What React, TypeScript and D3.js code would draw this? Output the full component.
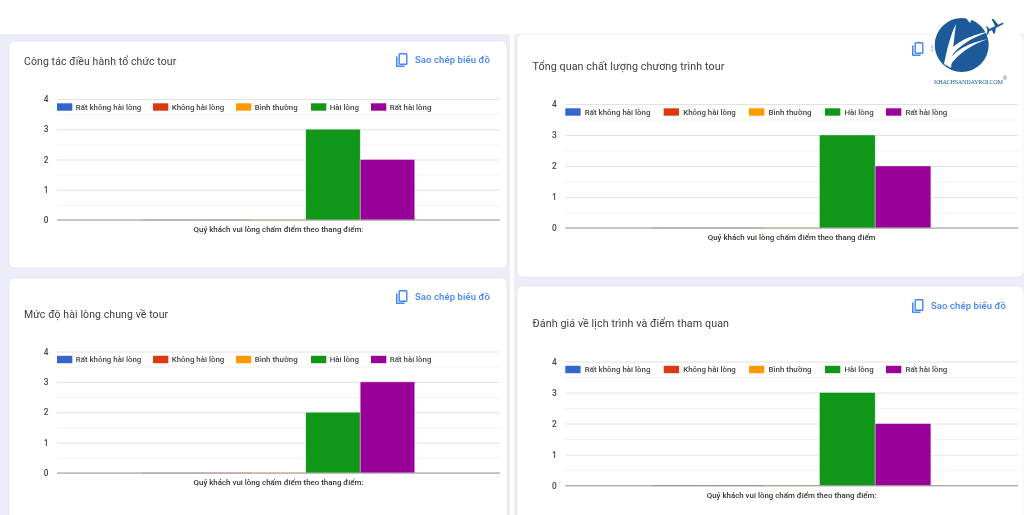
import { useEffect, useRef } from "react";
import * as d3 from "d3";

const seriesNames = ["Rất không hài lòng", "Không hài lòng", "Bình thường", "Hài lòng", "Rất hài lòng"];
const seriesColours = ["#3366cc", "#dc3912", "#ff9900", "#109618", "#990099"];
const yTicks = [0, 1, 2, 3, 4];
const yMinorTicks = [0.5, 1.5, 2.5, 3.5];

const valuesCongTac = [0, 0, 0, 3, 2];
const valuesTongQuan = [0, 0, 0, 3, 2];
const valuesMucDo = [0, 0, 0, 2, 3];
const valuesDanhGia = [0, 0, 0, 3, 2];

const axisWithColon = "Quý khách vui lòng chấm điểm theo thang điểm:";
const axisNoColon = "Quý khách vui lòng chấm điểm theo thang điểm";
const copyLabel = "Sao chép biểu đồ";

const FONT = "Roboto, sans-serif";

type Panel = {
    title: string,
    titleSize: number,
    values: number[],
    axisTitle: string,
    card: { x: number, y: number, w: number, h: number },
    titlePos: [number, number],
    copyPos: [number, number],
    plot: { left: number, right: number, top: number, bottom: number },
    legendX: number[],
    labelGap: number
}

const panels: Panel[] = [
    {
        title: "Công tác điều hành tổ chức tour", titleSize: 10.5, values: valuesCongTac, axisTitle: axisWithColon,
        card: { x: 9, y: 41, w: 498, h: 227 }, titlePos: [24, 65], copyPos: [395, 53],
        plot: { left: 57, right: 500, top: 99, bottom: 220 }, legendX: [57, 153, 236, 311, 371], labelGap: 18.7
    },
    {
        title: "Tổng quan chất lượng chương trình tour", titleSize: 10.7, values: valuesTongQuan, axisTitle: axisNoColon,
        card: { x: 517, y: 34, w: 507, h: 243 }, titlePos: [532.5, 70], copyPos: [911, 42],
        plot: { left: 565.3, right: 1018, top: 104, bottom: 228 }, legendX: [565.3, 663.7, 749, 825, 886], labelGap: 19.5
    },
    {
        title: "Mức độ hài lòng chung về tour", titleSize: 10.5, values: valuesMucDo, axisTitle: axisWithColon,
        card: { x: 9, y: 278, w: 498, h: 250 }, titlePos: [24, 318], copyPos: [395, 290],
        plot: { left: 57, right: 500, top: 351.5, bottom: 473 }, legendX: [57, 153, 236, 311, 371], labelGap: 18.7
    },
    {
        title: "Đánh giá về lịch trình và điểm tham quan", titleSize: 10.7, values: valuesDanhGia, axisTitle: axisWithColon,
        card: { x: 517, y: 286, w: 507, h: 240 }, titlePos: [532.5, 327], copyPos: [911, 299],
        plot: { left: 565.3, right: 1018, top: 361.5, bottom: 485.7 }, legendX: [565.3, 663.7, 749, 825, 886], labelGap: 19.5
    }
];

function drawPanel(root: d3.Selection<SVGGElement, unknown, null, undefined>, p: Panel) {
    root.append("rect")
        .attr("x", p.card.x).attr("y", p.card.y)
        .attr("width", p.card.w).attr("height", p.card.h)
        .attr("rx", 6)
        .attr("fill", "#fff")
        .attr("stroke", "#e3e2ee").attr("stroke-width", 0.6);

    root.append("text")
        .attr("x", p.titlePos[0]).attr("y", p.titlePos[1])
        .attr("font-size", p.titleSize).attr("letter-spacing", 0.1)
        .attr("fill", "#3c4043")
        .text(p.title);

    // copy button
    const copy = root.append("g").attr("transform", `translate(${p.copyPos[0]},${p.copyPos[1]})`);
    copy.append("path")
        .attr("d", "M2.5 3.5 H1 V13 a1 1 0 0 0 1 1 H9.5 V12.6 H2.5 Z")
        .attr("fill", "#4285f4");
    copy.append("rect")
        .attr("x", 4.2).attr("y", 0.8).attr("width", 7.6).attr("height", 10.4).attr("rx", 0.8)
        .attr("fill", "none").attr("stroke", "#4285f4").attr("stroke-width", 1.4);
    copy.append("text")
        .attr("x", 20).attr("y", 10.3)
        .attr("font-size", 9.5).attr("font-weight", 500).attr("letter-spacing", 0.1)
        .attr("fill", "#4285f4")
        .text(copyLabel);

    const y = d3.scaleLinear().domain([0, 4]).range([p.plot.bottom, p.plot.top]);
    const x0 = d3.scaleBand<string>().domain([p.axisTitle]).range([p.plot.left, p.plot.right]).paddingOuter(0.313).paddingInner(0);
    const x1 = d3.scaleBand<string>().domain(seriesNames).range([x0(p.axisTitle)!, x0(p.axisTitle)! + x0.bandwidth()]);
    const width = p.plot.right - p.plot.left;

    // minor grid
    root.append("g")
        .attr("transform", `translate(${p.plot.left},0)`)
        .call(d3.axisLeft(y).tickValues(yMinorTicks).tickSize(-width).tickFormat(() => ""))
        .call(g => g.select(".domain").remove())
        .call(g => g.selectAll(".tick line").attr("stroke", "#f2f2f2"));

    // major grid and tick labels
    root.append("g")
        .attr("transform", `translate(${p.plot.left},0)`)
        .call(d3.axisLeft(y).tickValues(yTicks).tickSize(-width).tickPadding(8.5).tickFormat(d3.format("d")))
        .call(g => g.select(".domain").remove())
        .call(g => g.selectAll(".tick line").attr("stroke", "#e2e2e2"))
        .call(g => g.selectAll(".tick text")
            .attr("font-family", FONT).attr("font-size", 8.3).attr("font-weight", 500).attr("fill", "#444"));

    // bars
    root.append("g")
        .selectAll("rect")
        .data(p.values)
        .join("rect")
        .attr("x", (_, i) => x1(seriesNames[i])!)
        .attr("y", d => y(d))
        .attr("width", x1.bandwidth())
        .attr("height", d => y(0) - y(d))
        .attr("fill", (_, i) => seriesColours[i])
        .attr("stroke", "#fff").attr("stroke-opacity", 0.5).attr("stroke-width", 0.7);

    // baseline
    root.append("line")
        .attr("x1", p.plot.left).attr("x2", p.plot.right)
        .attr("y1", y(0)).attr("y2", y(0))
        .attr("stroke", "#999").attr("stroke-width", 1);

    // zero bars only tint the baseline
    root.append("g")
        .selectAll("line")
        .data(p.values)
        .join("line")
        .attr("x1", (_, i) => x1(seriesNames[i])!)
        .attr("x2", (_, i) => x1(seriesNames[i])! + x1.bandwidth())
        .attr("y1", y(0)).attr("y2", y(0))
        .attr("stroke", (_, i) => seriesColours[i])
        .attr("stroke-opacity", d => d === 0 ? 0.25 : 0);

    // legend sits over the top of the plot
    const legendY = p.plot.top + 8;
    const legend = root.append("g")
        .selectAll("g")
        .data(seriesNames)
        .join("g")
        .attr("transform", (_, i) => `translate(${p.legendX[i]},${legendY})`);
    legend.append("rect")
        .attr("y", -3.7).attr("width", 15.3).attr("height", 7.4)
        .attr("fill", (_, i) => seriesColours[i]);
    legend.append("text")
        .attr("x", p.labelGap).attr("y", 2.8)
        .attr("font-size", 7.9).attr("font-weight", 500)
        .attr("fill", "#444")
        .text(d => d);

    root.append("text")
        .attr("x", (p.plot.left + p.plot.right) / 2).attr("y", p.plot.bottom + 12)
        .attr("text-anchor", "middle")
        .attr("font-size", 7.9).attr("font-weight", 500)
        .attr("fill", "#333")
        .text(p.axisTitle);
}

function drawLogo(root: d3.Selection<SVGGElement, unknown, null, undefined>) {
    const blue = "#1c5a99";
    const logo = root.append("g");
    logo.append("rect").attr("x", 932.5).attr("y", 14).attr("width", 85.5).attr("height", 72).attr("fill", "#fff");
    logo.append("circle").attr("cx", 961.7).attr("cy", 45).attr("r", 27).attr("fill", blue);
    // white swooshes
    logo.append("path")
        .attr("d", "M944 64 C947 50 950 36 956 24 C954 38 953 52 951 68 Z")
        .attr("fill", "#fff");
    logo.append("path")
        .attr("d", "M947 54 C954 44 966 36 989 31.5 C972 38 960 44 950 58 Z")
        .attr("fill", "#fff");
    logo.append("path")
        .attr("d", "M949 60 C956 50 968 43 988 39 C974 44 962 50 951 64 Z")
        .attr("fill", "#fff");
    logo.append("path")
        .attr("d", "M965 17 L970 23 L973 17 Z")
        .attr("fill", "#fff");
    // plane
    logo.append("path")
        .attr("d", "M987 30 L1003 22.5 L1003.5 24 L989 31.5 Z M991.5 19 L993.5 19 L998.5 25 L995.5 27 Z M991 28 L996 27 L995 33.5 L993.5 33.5 Z M986 26.5 L987.5 26.5 L990 30 L987.5 35 L986.5 35 L987.5 30 Z")
        .attr("fill", blue);
    logo.append("text")
        .attr("x", 934).attr("y", 83.5)
        .attr("font-family", "Liberation Serif, serif").attr("font-size", 6.2)
        .attr("textLength", 69).attr("fill", blue)
        .text("KHACHSANDAYROI.COM");
    logo.append("text")
        .attr("x", 1003).attr("y", 79.5)
        .attr("font-family", "Liberation Sans, sans-serif").attr("font-size", 5)
        .attr("fill", blue)
        .text("®");
}

export default function App() {
    const ref = useRef<SVGSVGElement>(null);

    useEffect(() => {
        const svg = d3.select(ref.current);
        svg.selectAll("*").remove();
        const root = svg.append("g").attr("font-family", FONT) as d3.Selection<SVGGElement, unknown, null, undefined>;

        root.append("rect").attr("width", 1024).attr("height", 515).attr("fill", "#fff");
        root.append("rect").attr("y", 34).attr("width", 1024).attr("height", 481).attr("fill", "#edecf9");
        // gap between the two pasted screenshots
        root.append("rect").attr("x", 510).attr("y", 34).attr("width", 4).attr("height", 481).attr("fill", "#fff");

        panels.forEach(p => drawPanel(root, p));
        drawLogo(root);

        return () => {
            svg.selectAll("*").remove();
        };
    }, []);

    return (
        <svg ref={ref} width={1024} height={515} style={{ position: "absolute", left: 0, top: 0, filter: "blur(0.4px)" }}>
        </svg>
    );
}
